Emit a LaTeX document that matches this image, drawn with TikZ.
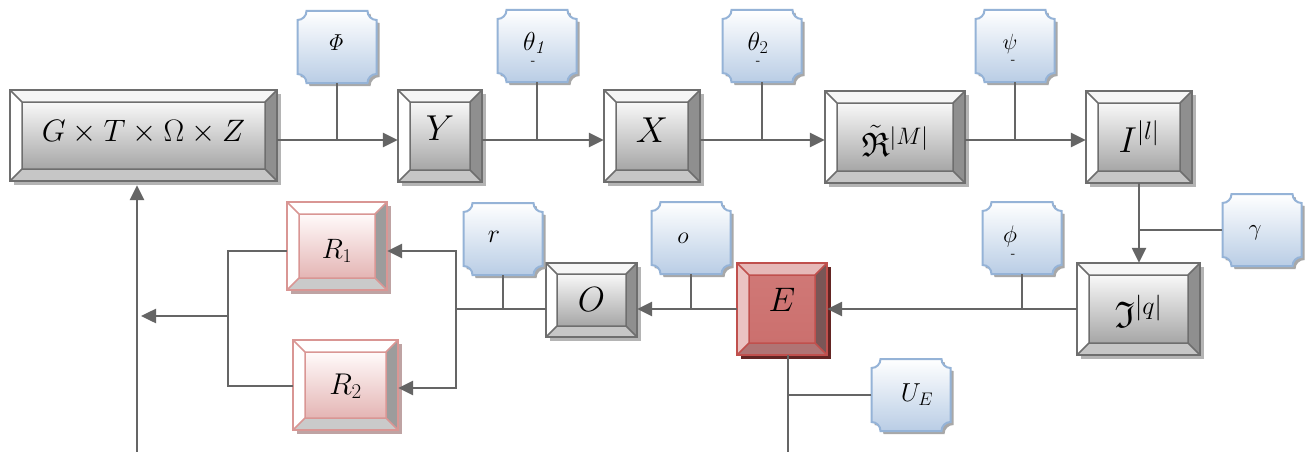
\RequirePackage{fix-cm}
\documentclass[tikz,border=0pt]{standalone}
\usepackage{amsmath,amssymb}
\DeclareFontFamily{U}{euf}{}
\DeclareFontShape{U}{euf}{m}{n}{<-6>eufm5<6-8>eufm7<8->eufm10}{}
\DeclareFontShape{U}{euf}{b}{n}{<-6>eufb5<6-8>eufb7<8->eufb10}{}
\usetikzlibrary{arrows.meta}
% gray scheme
\definecolor{gB}{HTML}{6E6E6E}
\definecolor{gT}{HTML}{F6F6F6}
\definecolor{gL}{HTML}{FFFFFF}
\definecolor{gR}{HTML}{8F8F8F}
\definecolor{gD}{HTML}{C6C6C6}
\definecolor{gIt}{HTML}{F8F8F8}
\definecolor{gIm}{HTML}{D2D2D2}
\definecolor{gIb}{HTML}{A6A6A6}
\definecolor{gSh}{HTML}{B4B4B4}
% red scheme
\definecolor{rB}{HTML}{C0504D}
\definecolor{rT}{HTML}{E6B9B8}
\definecolor{rL}{HTML}{EBC3C2}
\definecolor{rR}{HTML}{7A5656}
\definecolor{rD}{HTML}{B07474}
\definecolor{rIt}{HTML}{D07876}
\definecolor{rIm}{HTML}{BE4B48}
\definecolor{rIb}{HTML}{CB706E}
\definecolor{rSh}{HTML}{632523}
% pink scheme
\definecolor{pB}{HTML}{D99694}
\definecolor{pT}{HTML}{FFFFFF}
\definecolor{pL}{HTML}{FFFFFF}
\definecolor{pR}{HTML}{9C9C9C}
\definecolor{pD}{HTML}{CACACA}
\definecolor{pIt}{HTML}{FFFAFA}
\definecolor{pIm}{HTML}{F2D8D8}
\definecolor{pIb}{HTML}{E4B5B4}
\definecolor{pSh}{HTML}{BFA3A3}
% plaque
\definecolor{plB}{HTML}{95B3D7}
\definecolor{plBot}{HTML}{B9CDE5}
\definecolor{plSh}{HTML}{A8A8A8}
\definecolor{lncol}{HTML}{656565}
\newcommand\fs[1]{\fontsize{#1}{#1}\selectfont}
\tikzset{
 ln/.style={draw=lncol, line width=2.5pt},
 arr/.style={ln, -{Triangle[length=15pt,width=14pt]}},
 boxnode/.style={inner sep=0pt, rectangle},
 txt/.style={inner sep=0pt},
 pnode/.style={inner sep=0pt, rectangle, minimum width=79pt, minimum height=72pt},
 dashmark/.style={inner sep=0pt, font=\fs{12}\bfseries, text=black!80},
 plq/.style 2 args={insert path={(#1-30.5,#2-36) -- (#1+30.5,#2-36) arc[start angle=180,end angle=90,radius=9] -- (#1+39.5,#2+27) arc[start angle=270,end angle=180,radius=9] -- (#1-30.5,#2+36) arc[start angle=0,end angle=-90,radius=9] -- (#1-39.5,#2-27) arc[start angle=90,end angle=0,radius=9] -- cycle}},
}
% name, x0, y0, x1, y1, scheme, bevel, text, text dy
\newcommand\bevbox[9]{%
 \fill[#6Sh] (#2+4,#3+4) rectangle (#4+4,#5+4);
 \fill[#6T] (#2,#3) -- (#4,#3) -- (#4-#7,#3+#7) -- (#2+#7,#3+#7) -- cycle;
 \fill[#6L] (#2,#3) -- (#2+#7,#3+#7) -- (#2+#7,#5-#7) -- (#2,#5) -- cycle;
 \fill[#6R] (#4,#3) -- (#4,#5) -- (#4-#7,#5-#7) -- (#4-#7,#3+#7) -- cycle;
 \fill[#6D] (#2,#5) -- (#4,#5) -- (#4-#7,#5-#7) -- (#2+#7,#5-#7) -- cycle;
 \shade[top color=#6It, middle color=#6Im, bottom color=#6Ib] (#2+#7,#3+#7) rectangle (#4-#7,#5-#7);
 \draw[#6B, line width=1.5pt] (#2+#7,#3+#7) rectangle (#4-#7,#5-#7)
   (#2,#3) -- (#2+#7,#3+#7) (#4,#3) -- (#4-#7,#3+#7)
   (#2,#5) -- (#2+#7,#5-#7) (#4,#5) -- (#4-#7,#5-#7);
 \draw[#6B, line width=2.5pt] (#2,#3) rectangle (#4,#5);
 \node[boxnode, minimum width={(#4-#2)*1pt}, minimum height={(#5-#3)*1pt}] (#1) at ({(#2+#4)/2},{(#3+#5)/2}) {};
 \node[txt] (#1t) at ({(#2+#4)/2},{(#3+#5)/2+#9}) {#8};
}
% name, cx, cy, text, dx, dy
\newcommand\plaq[6]{%
 \fill[plSh, plq={#2+3}{#3+3}];
 \shade[top color=white, bottom color=plBot, plq={#2}{#3}];
 \draw[plB, line width=2pt, plq={#2}{#3}];
 \node[pnode] (#1) at (#2,#3) {};
 \node[txt] (#1t) at (#2+#5,#3+#6) {#4};
}
\begin{document}
\begin{tikzpicture}[x=1pt,y=-1pt]
\fill[white] (0,0) rectangle (1311,452);
\useasboundingbox (0,0) rectangle (1311,452);
% boxes
\bevbox{G}{10}{90}{277}{181}{g}{12}{\fs{31}$G\times T\times\Omega\times Z$}{-3}
\bevbox{Y}{398}{90}{482}{182}{g}{12}{\fs{36}$Y$}{-8}
\bevbox{X}{604}{90}{700}{182}{g}{12}{\fs{36}$X$}{-6}
\bevbox{Rt}{825}{91}{965}{183}{g}{12}{\fs{34}$\tilde{\mathfrak{R}}^{|M|}$}{4}
\bevbox{I}{1086}{91}{1192}{183}{g}{12}{\fs{36}$I^{|l|}$}{0}
\bevbox{Ib}{1077}{263}{1200}{355}{g}{12}{\fs{37}$\mathfrak{I}^{|q|}$}{2}
\bevbox{E}{737}{263}{827}{355}{r}{12}{\fs{34}$E$}{-9}
\bevbox{O}{546}{263}{637}{337}{g}{11}{\fs{35}$O$}{0}
\bevbox{R1}{287}{202}{387}{290}{p}{12}{\fs{28}$R_1$}{5}
\bevbox{R2}{293}{340}{398}{430}{p}{12}{\fs{30}$R_2$}{1}
% parameters
\plaq{Phi}{337}{47}{\fs{23}$\mathit{\Phi}$}{-2}{-4}
\plaq{th1}{537}{46}{\fs{26}$\theta_{\mathit{1}}$}{-2}{-3}
\plaq{th2}{762}{46}{\fs{26}$\theta_2$}{-4}{-3}
\plaq{psi}{1015}{46}{\fs{22}$\psi$}{-5}{-2}
\plaq{r}{503}{239}{\fs{26}$r$}{-9}{-2}
\plaq{o}{691}{238}{\fs{24}$o$}{-8}{0}
\plaq{phi}{1022}{238}{\fs{24}$\phi$}{-12}{-2}
\plaq{gam}{1262}{230}{\fs{23}$\gamma$}{-7}{3}
\plaq{U}{911}{395}{\fs{26}$U_E$}{6}{0}
\node[dashmark] (d1) at (533,63) {-};
\node[dashmark] (d2) at (758,63) {-};
\node[dashmark] (d3) at (1013,62) {-};
\node[dashmark] (d4) at (1013,256) {-};
% connectors
\coordinate (tl) at (0,140);
\draw[arr] (G.east |- tl) -- (Y.west |- tl);
\draw[arr] (Y.east |- tl) -- (X.west |- tl);
\draw[arr] (X.east |- tl) -- (Rt.west |- tl);
\draw[arr] (Rt.east |- tl) -- (I.west |- tl);
\draw[ln] (Phi.south) -- (Phi.south |- tl);
\draw[ln] (th1.south) -- (th1.south |- tl);
\draw[ln] (th2.south) -- (th2.south |- tl);
\draw[ln] (psi.south) -- (psi.south |- tl);
\draw[arr] (I.south) -- (I.south |- Ib.north);
\draw[ln] (gam.west) -- (gam.west -| I.south);
\draw[arr] (Ib.west) -- (E.east);
\draw[ln] (phi.south) -- (phi.south |- E.east);
\draw[arr] (E.west) -- (E.west -| O.east);
\draw[ln] (o.south) -- (o.south |- E.west);
\coordinate (jr) at (456,309);
\draw[ln] (O.west |- E.west) -- (jr);
\draw[ln] (r.south) -- (r.south |- E.west);
\draw[arr] (jr) |- ([yshift=-5pt]R1.east);
\draw[arr] (jr) |- ([yshift=-3pt]R2.east);
\coordinate (lj) at (228,316);
\coordinate (bl) at (137,452);
\draw[ln] ([yshift=-5pt]R1.west) -| (lj) |- ([yshift=-1pt]R2.west);
\draw[arr, shorten >=4pt] (lj) -- (lj -| bl);
\draw[arr, shorten >=4pt] (bl) -- (bl |- G.south);
\coordinate (eb) at (788,452);
\draw[ln] (eb |- E.south) -- (eb);
\draw[ln] (U.west) -- (U.west -| eb);
\end{tikzpicture}
\end{document}
